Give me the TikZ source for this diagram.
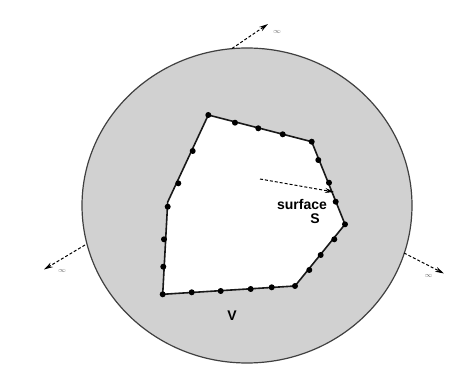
\documentclass[tikz,border=0pt]{standalone}
\usepackage{fontspec}
\setmainfont{Liberation Sans}
\usetikzlibrary{arrows.meta}

\tikzset{
	lbl/.style={font=\bfseries\fontsize{14}{16}\selectfont, inner sep=0pt},
	inflbl/.style={font=\fontsize{7}{8}\selectfont, text=black!60, inner sep=0pt},
	farrow/.style={dash pattern=on 3pt off 2pt, line width=1pt, -{Stealth[length=9pt,width=5pt]}},
}

\begin{document}
\begin{tikzpicture}[x=1pt, y=-1pt]
	\useasboundingbox (0,0) rectangle (469,371);
	% outer region
	\filldraw[fill=black!18, draw=black!75, line width=1.2pt] (247,205.5) ellipse (165 and 157.5);
	% corners of the surface
	\coordinate (c1) at (208.3,115);
	\coordinate (c2) at (311.7,141.7);
	\coordinate (c3) at (345,224.3);
	\coordinate (c4) at (295,286);
	\coordinate (c5) at (162.7,294.3);
	\coordinate (c6) at (167.7,202);
	\filldraw[fill=white, draw=black!90, line width=1.6pt] (c1) -- (c2) -- (c3) -- (c4) -- (c5) -- (c6) -- cycle;
	\foreach \x/\y in {208.3/115, 235/122.7, 258.3/128.3, 282.7/134.3, 311.7/141.7,
		318.3/160, 329/182.7, 335.7/201.7, 345/224.3,
		334.3/239.3, 320.7/255, 309.3/270, 295/286,
		271.7/287.3, 250.7/289, 220.7/291, 191.7/292.3, 162.7/294.3,
		163.3/266.7, 164/239.3, 167.7/206.7, 178.3/183.3, 192.7/151} {
		\fill (\x,\y) circle (3);
	}
	% labels
	\node[lbl] (surf) at (302,204) {surface};
	\node[lbl] (surfS) at (315,218.5) {S};
	\node[lbl] (vol) at (232,316) {V};
	% arrows to infinity
	\coordinate (t0) at (232,48.5);
	\coordinate (t1) at (268,24);
	\coordinate (l0) at (85,245);
	\coordinate (l1) at (44,269.5);
	\coordinate (r0) at (404,253);
	\coordinate (r1) at (444,273.5);
	\coordinate (s0) at (260,179);
	\coordinate (s1) at (334,192);
	\draw[farrow] (t0) -- (t1);
	\draw[farrow] (l0) -- (l1);
	\draw[farrow] (r0) -- (r1);
	\draw[farrow] (s0) -- (s1);
	\node[inflbl] (it) at (277,31.5) {$\infty$};
	\node[inflbl] (il) at (62,270.5) {$\infty$};
	\node[inflbl] (ir) at (428.5,275.5) {$\infty$};
\end{tikzpicture}
\end{document}
